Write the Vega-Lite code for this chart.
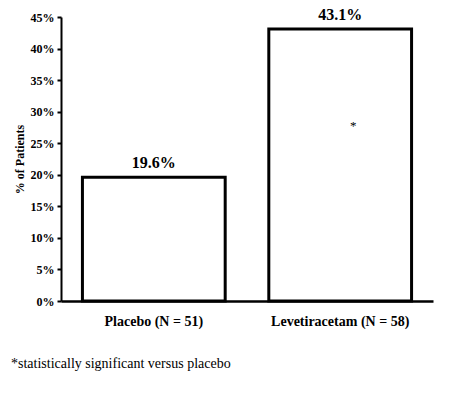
{
  "$schema": "https://vega.github.io/schema/vega-lite/v6.json",
  "autosize": {"type": "none"},
  "width": 372,
  "height": 284,
  "padding": {"left": 61, "top": 17, "right": 25, "bottom": 94},
  "background": "white",
  "config": {
    "view": {"stroke": null},
    "font": "Times New Roman, Liberation Serif, serif"
  },
  "datasets": {
    "bars": [
      {"group": "Placebo (N = 51)", "pct": 0.196, "label": "19.6%", "kind": "bar"},
      {"group": "Levetiracetam (N = 58)", "pct": 0.431, "label": "43.1%", "kind": "bar"},
      {"group": "Levetiracetam (N = 58)", "pct": 0.277, "label": "*", "kind": "mark"}
    ]
  },
  "data": {"name": "bars"},
  "title": {
    "text": "*statistically significant versus placebo",
    "orient": "bottom",
    "anchor": "start",
    "frame": "group",
    "font": "Times New Roman, Liberation Serif, serif",
    "fontSize": 14,
    "fontWeight": "normal",
    "color": "black",
    "dx": -50,
    "offset": 29
  },
  "encoding": {
    "x": {
      "field": "group", "type": "nominal", "sort": ["Placebo (N = 51)", "Levetiracetam (N = 58)"],
      "scale": {"paddingInner": 0.234, "paddingOuter": 0.115},
      "axis": {
        "title": null, "labelAngle": 0, "ticks": false,
        "domainColor": "black", "domainWidth": 2.5,
        "labelFont": "Times New Roman, Liberation Serif, serif", "labelFontSize": 14, "labelFontWeight": "bold",
        "labelColor": "black", "labelPadding": 13
      }
    },
    "y": {
      "field": "pct", "type": "quantitative",
      "scale": {"domain": [0, 0.45], "nice": false, "zero": true},
      "axis": {
        "title": "% of Patients",
        "values": [0, 0.05, 0.1, 0.15, 0.2, 0.25, 0.3, 0.35, 0.4, 0.45],
        "format": ".0%", "grid": false, "labelOverlap": false, "labelFlush": false,
        "domainColor": "black", "domainWidth": 2,
        "tickColor": "black", "tickWidth": 2, "tickSize": 4,
        "labelFont": "Times New Roman, Liberation Serif, serif", "labelFontSize": 12, "labelFontWeight": "bold",
        "labelColor": "black", "labelPadding": 3,
        "titleFont": "Times New Roman, Liberation Serif, serif", "titleFontSize": 12, "titleFontWeight": "bold",
        "titleColor": "black", "titlePadding": 4
      }
    }
  },
  "layer": [
    {
      "transform": [{"filter": "datum.kind == 'bar'"}],
      "mark": {"type": "bar", "fill": "white", "stroke": "black", "strokeWidth": 3}
    },
    {
      "transform": [{"filter": "datum.kind == 'bar'"}],
      "mark": {"type": "text", "baseline": "bottom", "dy": -6, "font": "Times New Roman, Liberation Serif, serif", "fontSize": 16, "fontWeight": "bold", "color": "black"},
      "encoding": {"text": {"field": "label"}}
    },
    {
      "transform": [{"filter": "datum.kind == 'mark'"}],
      "mark": {"type": "text", "baseline": "middle", "dx": 13, "font": "Times New Roman, Liberation Serif, serif", "fontSize": 13, "color": "black"},
      "encoding": {"text": {"field": "label"}}
    }
  ]
}
